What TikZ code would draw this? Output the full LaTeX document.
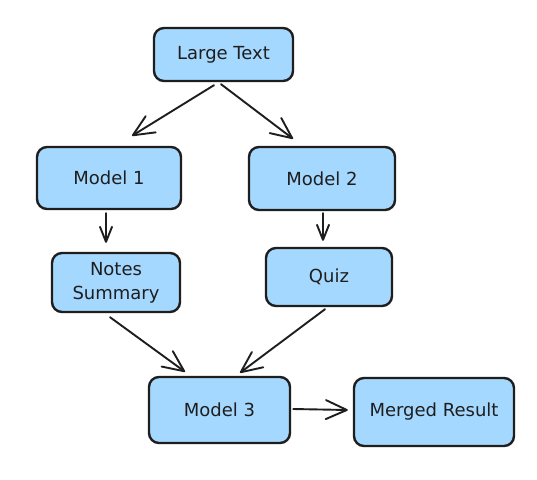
\documentclass[tikz,border=0pt]{standalone}
\usepackage{fontspec}
\setmainfont{DejaVu Sans}
\usetikzlibrary{arrows.meta}
\definecolor{boxfill}{HTML}{A5D8FF}
\definecolor{ink}{HTML}{1E1E1E}
\begin{document}
\begin{tikzpicture}[x=1pt,y=-1pt,
  box/.style={draw=ink, fill=boxfill, line width=2.4pt, rounded corners=10pt,
    inner sep=0pt, align=center, text=ink,
    font=\fontsize{18}{24}\selectfont},
  conn/.style={draw=ink, line width=1.9pt, line cap=round,
    -{Straight Barb[length=21pt,width=19pt,line width=1.9pt,round]}},
  shortconn/.style={draw=ink, line width=1.9pt, line cap=round,
    -{Straight Barb[length=15pt,width=12pt,line width=1.9pt,round]}}
]
\useasboundingbox (0,0) rectangle (537,479);
\fill[white] (0,0) rectangle (537,479);

\node[box, minimum width=139pt, minimum height=53pt] (lt) at (223.5,54.5) {Large Text};
\node[box, minimum width=144pt, minimum height=62pt] (m1) at (109,178) {Model 1};
\node[box, minimum width=146pt, minimum height=63pt] (m2) at (322,178.5) {Model 2};
\node[box, minimum width=128pt, minimum height=59pt] (ns) at (116,282.5) {Notes\\Summary};
\node[box, minimum width=126pt, minimum height=58pt] (qz) at (329,277) {Quiz};
\node[box, minimum width=141pt, minimum height=66pt] (m3) at (219.5,410) {Model 3};
\node[box, minimum width=160pt, minimum height=68pt] (mr) at (434,412) {Merged Result};

\draw[conn] ([shift={(-9.5,3)}]lt.south) -- ([shift={(23,-10)}]m1.north);
\draw[conn] ([shift={(-2.5,2)}]lt.south) -- ([shift={(-29,-7)}]m2.north);
\draw[shortconn] ([shift={(-3,3)}]m1.south) -- ([shift={(-10,-9)}]ns.north);
\draw[shortconn] ([shift={(1,2)}]m2.south) -- ([shift={(-6,-6)}]qz.north);
\draw[conn] ([shift={(-6,4)}]ns.south) -- ([shift={(-34.5,-4)}]m3.north);
\draw[conn] ([shift={(-4,2)}]qz.south) -- ([shift={(20.5,-3)}]m3.north);
\draw[conn] ([shift={(2,-1)}]m3.east) -- ([shift={(-5,-2)}]mr.west);
\end{tikzpicture}
\end{document}
